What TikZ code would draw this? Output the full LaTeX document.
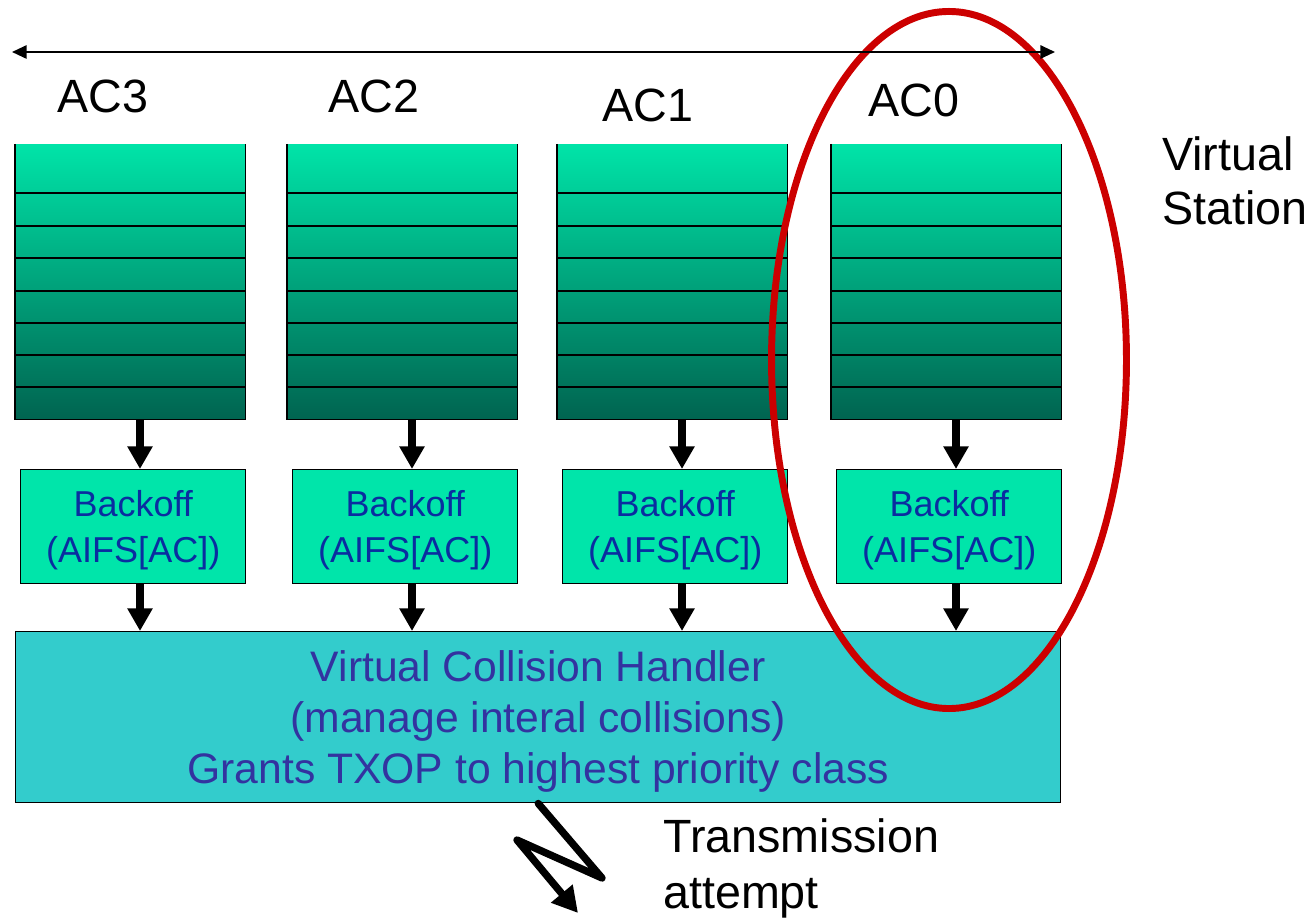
\documentclass[tikz,border=0pt]{standalone}
\usepackage{fontspec}
\setmainfont{Liberation Sans}
\usetikzlibrary{arrows.meta}
\definecolor{qtop}{RGB}{0,228,168}
\definecolor{qbot}{RGB}{0,100,80}
\definecolor{bofill}{RGB}{0,229,170}
\definecolor{botext}{RGB}{10,45,160}
\definecolor{vchfill}{RGB}{51,204,204}
\definecolor{vchtext}{RGB}{51,51,160}
\definecolor{ovalred}{RGB}{204,0,0}
\tikzset{
  queuebox/.style={anchor=north west, inner sep=0pt, minimum width=172.5pt, minimum height=206.25pt, top color=qtop, bottom color=qbot, draw=none},
  qline/.style={line width=1.1pt, black},
  backoffbox/.style={anchor=north west, draw=black, line width=1.1pt, fill=bofill, minimum width=168.75pt, minimum height=85.5pt, inner sep=0pt, align=center, text depth=0pt, text=botext, font=\fontsize{27}{34.5}\selectfont},
  vchbox/.style={anchor=north west, draw=black, line width=1.1pt, fill=vchfill, minimum width=783.75pt, minimum height=128.25pt, inner sep=0pt, align=center, text depth=0pt, text=vchtext, font=\fontsize{32}{38.25}\selectfont},
  bigarrow/.style={line width=6.5pt, -{Triangle[width=18pt,length=17pt]}},
  aclabel/.style={anchor=base west, inner sep=0pt, font=\fontsize{35}{42}\selectfont},
  sidelabel/.style={anchor=north west, inner sep=0pt, align=left},
  oval/.style={draw=ovalred, line width=5.2pt},
  spanarrow/.style={line width=1.4pt, {Triangle[width=10pt,length=11pt]}-{Triangle[width=10pt,length=11pt]}},
  bolt/.style={line width=5.5pt, line join=round, line cap=round, -{Triangle[width=20pt,length=19pt]}}
}
\begin{document}
\begin{tikzpicture}[x=0.75pt,y=-0.75pt]
\useasboundingbox (0,0) rectangle (1313,919);
% queues
\foreach \L/\n in {15/1,287/2,557/3,831/4}{
  \node[queuebox] (q\n) at (\L,144) {};
  \foreach \yy in {193,226,258,291,323,355,387}{
    \draw[qline] (\L,\yy) -- (\L+230,\yy);
  }
  \draw[qline] (q\n.north west) -- (q\n.south west) -- (q\n.south east) -- (q\n.north east);
  \node[backoffbox] (b\n) at (\L+5,469) {Backoff\\(AIFS[AC])};
  \coordinate (ax\n) at (\L+125,0);
}
\node[vchbox] (vch) at (15,631) {Virtual Collision Handler\\(manage interal collisions)\\Grants TXOP to highest priority class};
\foreach \n in {1,2,3,4}{
  \draw[bigarrow] (q\n.south -| ax\n) -- (b\n.north -| ax\n);
  \draw[bigarrow] (b\n.south -| ax\n) -- (vch.north -| ax\n);
}
% labels
\node[aclabel] (l3) at (57,113) {AC3};
\node[aclabel] (l2) at (328,113) {AC2};
\node[aclabel] (l1) at (602,122) {AC1};
\node[aclabel] (l0) at (868,117) {AC0};
% oval
\coordinate (vs) at (949,360);
\draw[oval] (vs) ellipse [x radius=133.1pt, y radius=261.4pt];
% span arrow
\coordinate (sl) at (12,52);
\coordinate (sr) at (1055,52);
\draw[spanarrow] (sl) -- (sr);
% side labels
\node[sidelabel, font=\fontsize{35}{41}\selectfont] (vst) at (1162,136) {Virtual\\Station};
\node[sidelabel, font=\fontsize{35}{42.5}\selectfont] (tra) at (663,818) {Transmission\\attempt};
% bolt
\coordinate (k1) at (602,878);
\coordinate (k2) at (517,840);
\coordinate (k3) at (578,913);
\draw[bolt] (vch.south) -- (k1) -- (k2) -- (k3);
\end{tikzpicture}
\end{document}
